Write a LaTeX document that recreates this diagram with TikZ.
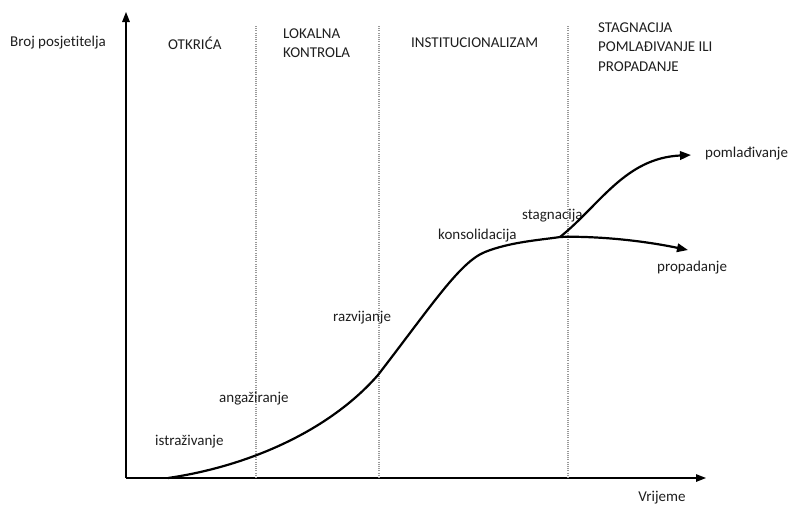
\documentclass[tikz,border=0pt]{standalone}
\usepackage{fontspec}
\setmainfont[Ligatures={NoCommon}]{Carlito}
\usetikzlibrary{arrows.meta}
\begin{document}
\begin{tikzpicture}[x=1pt, y=-1pt, font=\fontsize{15}{19.5}\selectfont,
  axis/.style={line width=1.4pt, -{Triangle[length=10pt, width=7.5pt]}},
  curve/.style={line width=2.2pt, line cap=round, -{Triangle[length=11pt, width=8.5pt]}},
  phase/.style={gray!80, line width=1.3pt, dash pattern=on 1pt off 1.2pt},
  lbl/.style={inner sep=0pt, anchor=west, align=left, text=txt}]
\definecolor{txt}{HTML}{1E1E1E}
\useasboundingbox (0,0) rectangle (788,507);
% axes
\coordinate (origin) at (126,478);
\coordinate (ytop) at (126,12);
\coordinate (xend) at (706,478);
\draw[axis] (origin) -- (ytop);
\draw[axis] (origin) -- (xend);
% phase borders
\draw[phase] (256,26) -- (256,478);
\draw[phase] (379,26) -- (379,478);
\draw[phase] (568,26) -- (568,478);
% headings
\node[lbl] (ylab) at (10,43) {Broj posjetitelja};
\node[lbl] (otkrica) at (168,43) {OTKRIĆA};
\node[lbl] (lokalna) at (283,43) {LOKALNA\\KONTROLA};
\node[lbl] (instit) at (411,43) {INSTITUCIONALIZAM};
\node[lbl] (stagn) at (598,47) {STAGNACIJA\\POMLAĐIVANJE ILI\\PROPADANJE};
\node[text=txt, inner sep=0pt] (xlab) at (662,498) {Vrijeme};
% stages
\node[lbl] (istr) at (155,442) {istraživanje};
\node[lbl] (angaz) at (219,399) {angažiranje};
\node[lbl] (razv) at (333,318) {razvijanje};
\node[lbl] (kons) at (438,236) {konsolidacija};
\node[lbl] (stag) at (522,216) {stagnacija};
\node[lbl] (poml) at (705,154) {pomlađivanje};
\node[lbl] (prop) at (657,268) {propadanje};
% life cycle curve
\coordinate (start) at (168,478);
\coordinate (razvoj) at (378,375);
\coordinate (plato) at (485,252);
\coordinate (branch) at (560,237);
\coordinate (up) at (691,155);
\coordinate (down) at (688,250);
\draw[curve] (start) .. controls (250,466) and (330,430) .. (razvoj)
  .. controls (432,305) and (460,262) .. (plato)
  .. controls (510,242) and (540,240) .. (branch)
  .. controls (582,236) and (630,238) .. (down);
\draw[curve] (branch) .. controls (600,205) and (625,158) .. (up);
\end{tikzpicture}
\end{document}
